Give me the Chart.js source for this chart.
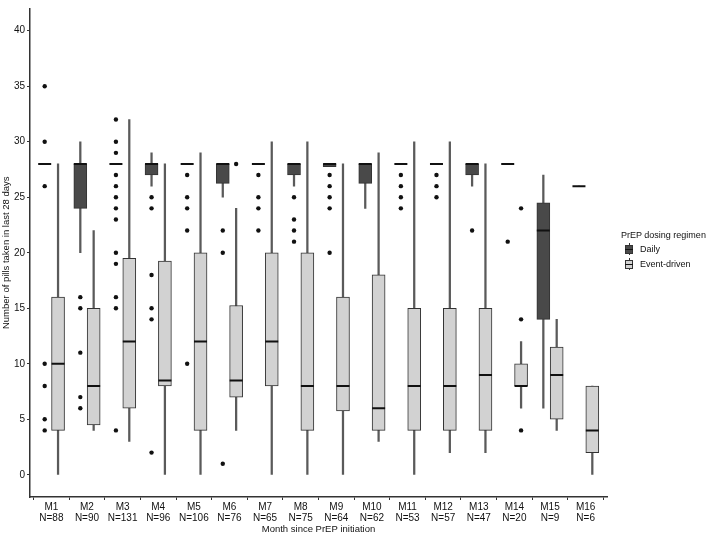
<!DOCTYPE html>
<html><head><meta charset="utf-8">
<script src="https://cdn.jsdelivr.net/npm/chart.js@4.4.1/dist/chart.umd.min.js"></script>
<style>
html,body{margin:0;padding:0;background:#fff;}
#wrap{position:relative;width:709px;height:534px;}
#legend{position:absolute;left:621px;top:229px;font-family:'Liberation Sans',Arial,sans-serif;font-size:9px;color:#111;}
#legend .ttl{height:12px;line-height:12px;white-space:nowrap;}
#legend .item{position:relative;height:14px;line-height:14px;padding-left:19px;white-space:nowrap;margin-top:1px;}
#legend .sw{position:absolute;left:4px;top:1px;width:8px;height:12px;}
#legend .sw .wk{position:absolute;left:3.5px;top:0;width:1px;height:12px;background:#333;}
#legend .sw .bx{position:absolute;left:0;top:2px;width:6px;height:7px;border:1px solid #333;}
#legend .sw .md{position:absolute;left:0;top:5.5px;width:8px;height:1px;background:#111;}
</style>
</head><body>
<div id="wrap">
<canvas id="c" width="709" height="534"></canvas>
<div id="legend"></div>
</div>
<script>
const months = ["M1","M2","M3","M4","M5","M6","M7","M8","M9","M10","M11","M12","M13","M14","M15","M16"];
const counts = [88,90,131,96,106,76,65,75,64,62,53,57,47,20,9,6];

// Daily regimen
const dailyLo  = [28,20,28,26,28,25,28,26,27.75,24,28,28,26,28,6,26];
const dailyQ1  = [28,24,28,27,28,26.25,28,27,27.75,26.25,28,28,27,28,14,26];
const dailyMed = [28,28,28,28,28,28,28,28,28,28,28,28,28,28,22,26];
const dailyQ3  = [28,28,28,28,28,28,28,28,28,28,28,28,28,28,24.5,26];
const dailyHi  = [28,30,28,29,28,28,28,28,28,28,28,28,28,28,27,26];
const dailyOut = [[35,30,26,10,8,5,4],[16,15,11,7,6],[32,30,29,27,26,25,24,23,20,19,16,15,4],[25,24,18,15,14,2],
  [27,25,24,22,10],[22,20,1],[27,25,24,22],[25,23,22,21],[27,26,25,24,20],[],[27,26,25,24],[27,26,25],[22],[21],[],[]];

// Event-driven regimen
const eventLo  = [0,4,3,0,0,4,0,0,0,3,0,2,2,6,4,0];
const eventQ1  = [4,4.5,6,8,4,7,8,4,5.75,4,4,4,4,8,5,2];
const eventMed = [10,8,12,8.5,12,8.5,12,8,8,6,8,8,9,8,9,4];
const eventQ3  = [16,15,19.5,19.25,20,15.25,20,20,16,18,15,15,15,10,11.5,8];
const eventHi  = [28,22,32,28,29,24,30,30,28,29,30,30,28,12,14,8];
const eventOut = [[],[],[],[],[],[28],[],[],[],[],[],[],[],[24,14,4],[],[]];

const yTicks = [0,5,10,15,20,25,30,35,40];
const groups = ["Daily","Event-driven"];
const legendTitle = "PrEP dosing regimen";

const DODGE = 0.1875;
const dailyX = i => i - DODGE;
const eventX = i => i + DODGE;

function rangeData(lo, hi, xf){ return lo.map((v,i)=>({x:xf(i), y:[v, hi[i]]})); }
function pointData(vals, xf){ return vals.map((v,i)=>({x:xf(i), y:v})); }
function outData(outs, xf){ const r=[]; outs.forEach((a,i)=>a.forEach(v=>r.push({x:xf(i), y:v}))); return r; }

const DAILY_FILL = '#494949', EVENT_FILL = '#d2d2d2', EDGE = '#333333', WHISK = '#5a5a5a';
const FILLS = [DAILY_FILL, EVENT_FILL];
const FONT = "'Liberation Sans', Arial, sans-serif";

// HTML legend
const lg = document.getElementById('legend');
let html = '<div class="ttl">'+legendTitle+'</div>';
groups.forEach((g,k)=>{
  html += '<div class="item"><span class="sw"><span class="wk"></span><span class="bx" style="background:'+FILLS[k]+'"></span><span class="md"></span></span>'+g+'</div>';
});
lg.innerHTML = html;

const datasets = [
  {label:'wd', type:'bar', data:rangeData(dailyLo,dailyHi,dailyX), backgroundColor:WHISK, barThickness:1.6, grouped:false, order:4},
  {label:'we', type:'bar', data:rangeData(eventLo,eventHi,eventX), backgroundColor:WHISK, barThickness:1.6, grouped:false, order:4},
  {label:groups[0], type:'bar', data:rangeData(dailyQ1,dailyQ3,dailyX), backgroundColor:DAILY_FILL, borderColor:EDGE, borderWidth:1, borderSkipped:false, barThickness:13, grouped:false, order:3},
  {label:groups[1], type:'bar', data:rangeData(eventQ1,eventQ3,eventX), backgroundColor:EVENT_FILL, borderColor:EDGE, borderWidth:1, borderSkipped:false, barThickness:13, grouped:false, order:3},
  {label:'md', type:'line', showLine:false, data:pointData(dailyMed,dailyX), pointStyle:'line', pointRadius:6.5, borderColor:'#111', borderWidth:2, order:2},
  {label:'me', type:'line', showLine:false, data:pointData(eventMed,eventX), pointStyle:'line', pointRadius:6.5, borderColor:'#111', borderWidth:2, order:2},
  {label:'od', type:'line', showLine:false, data:outData(dailyOut,dailyX), pointStyle:'circle', pointRadius:2.2, backgroundColor:'#111', borderWidth:0, order:1},
  {label:'oe', type:'line', showLine:false, data:outData(eventOut,eventX), pointStyle:'circle', pointRadius:2.2, backgroundColor:'#111', borderWidth:0, order:1},
];

new Chart(document.getElementById('c'), {
  type:'bar',
  data:{datasets},
  options:{
    responsive:false, animation:false,
    layout:{padding:{top:5,right:102,bottom:0,left:0}},
    plugins:{ tooltip:{enabled:false}, legend:{display:false} },
    scales:{
      x:{
        type:'linear', min:-0.6, max:15.6, offset:false,
        afterBuildTicks:ax=>{ ax.ticks = months.map((m,i)=>({value:i})); },
        afterFit:s=>{ s.height = 37; s.paddingLeft = 0; s.paddingRight = 0; },
        ticks:{ autoSkip:false, maxRotation:0, color:'#111', font:{family:FONT,size:10, lineHeight:1.1}, padding:2,
          callback:(v)=>{ const i=Math.round(v); return [months[i], 'N='+counts[i]]; } },
        grid:{display:true, drawOnChartArea:false, drawTicks:true, tickLength:3, color:'#333'},
        border:{display:true, color:'#333', width:1.5},
        title:{display:true, text:'Month since PrEP initiation', color:'#111', font:{family:FONT,size:9.5,lineHeight:1}, padding:{top:0,bottom:0}}
      },
      y:{
        type:'linear', min:-2, max:42,
        afterBuildTicks:ax=>{ ax.ticks = yTicks.map(v=>({value:v})); },
        afterFit:s=>{ s.width = 30; s.paddingTop = 0; s.paddingBottom = 0; },
        ticks:{ color:'#111', font:{family:FONT,size:10}, padding:2 },
        grid:{display:true, drawOnChartArea:false, drawTicks:true, tickLength:3, color:'#333'},
        border:{display:true, color:'#333', width:1.5},
        title:{display:true, text:'Number of pills taken in last 28 days', color:'#111', font:{family:FONT,size:9.5}, padding:{top:1,bottom:0}}
      }
    }
  }
});
</script>
</body></html>
